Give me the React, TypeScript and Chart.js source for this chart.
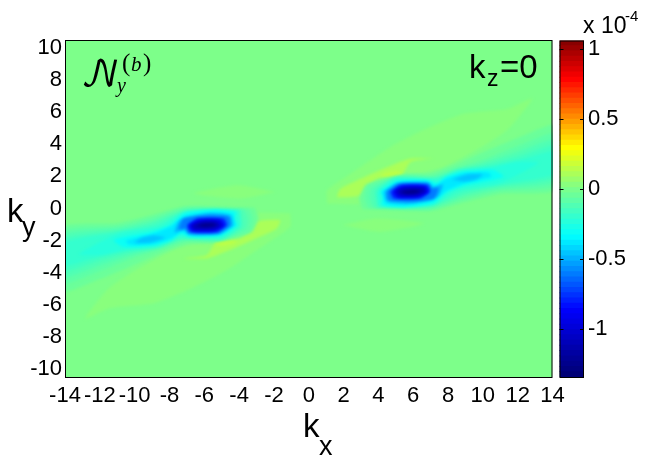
import React, { useEffect, useRef } from "react";
import { Chart, registerables } from "chart.js";
Chart.register(...registerables);

type P = [number, number];

const xTicks = [-14, -12, -10, -8, -6, -4, -2, 0, 2, 4, 6, 8, 10, 12, 14];
const yTicks = [-10, -8, -6, -4, -2, 0, 2, 4, 6, 8, 10];
const barTicks = [-1, -0.5, 0, 0.5, 1];
const kxRange: P = [-14, 14];
const kyRange: P = [-10.5, 10.5];
const barRange: P = [-1.34, 1.057];

// contours of the k>0 lobe, in (kx, ky); the field is even under k -> -k
const pos03: P[] = [[1.06,0.3],[2.98,0.3],[4.5,0.9],[5.66,1.97],[7.77,2.59],[10.26,4.05],[11.5,4.99],[12.84,6.86],[11.4,6.2],[8.9,5.9],[6.6,4.9],[4.7,3.84],[2.4,2.17],[1.06,1.13]];
const pos07: P[] = [[7.2,3.11],[5.85,2.9],[5.28,1.97],[3.94,1.86],[2.98,0.82],[1.64,0.72],[1.83,1.24],[2.8,1.76],[4.32,2.49],[5.85,3.11]];
const pos12: P[] = [[4.1,2.02],[5.3,2.0],[5.4,2.2],[5.0,2.35],[4.3,2.2]];
const posLow: P[] = [[1.9,-1.03],[3.92,-0.62],[6.6,-0.93],[4.1,-1.45]];
const neg03: P[] = [[3.1,-0.05],[7,-0.15],[9,0.4],[11,0.9],[14.3,1.2],[14.3,5.2],[12,4.4],[10,3.5],[8.5,2.8],[7,2.2],[5.5,2.15],[3.3,1.5],[2.9,0.6]];
const neg07: P[] = [[3.4,0.05],[7,-0.05],[9,0.6],[11,1.1],[14.3,1.45],[14.3,4.7],[12,3.9],[10,3.05],[8.5,2.55],[7,2.05],[5.5,2.05],[3.4,1.4],[3.2,0.6]];
const neg11: P[] = [[3.7,0.08],[7,0.05],[9,0.8],[11,1.25],[14.3,1.7],[14.3,4.3],[12,3.55],[10,2.85],[8.5,2.45],[7.2,1.95],[5.2,1.95],[3.6,1.25],[3.5,0.6]];
const neg15: P[] = [[3.9,0.1],[7,0.15],[9,0.95],[11,1.4],[14.3,1.95],[14.3,3.95],[12,3.25],[10,2.7],[8.5,2.4],[7.3,1.9],[5,1.9],[3.8,1.15]];
const neg19: P[] = [[4,0.14],[7.05,0.2],[8.7,1.05],[11,1.5],[14.3,2.2],[14.3,3.6],[12,3.0],[10.5,2.65],[8.6,2.35],[7.35,1.85],[5,1.85],[3.95,1.1]];
const neg23: P[] = [[4.1,0.18],[7.1,0.25],[8.5,1.15],[11,1.6],[13.2,2.85],[12,2.9],[10.5,2.55],[8.7,2.35],[7.4,1.75],[5,1.8],[4,1.05]];
const neg30: P[] = [[4.11,1.05],[5.07,1.72],[6.79,1.78],[7.37,1.57],[7.94,1.99],[8.9,2.3],[10.62,2.4],[11.2,1.99],[10.62,1.78],[9.09,1.47],[7.94,1.05],[7.17,0.32],[5.45,0.07],[4.2,0.22],[4.3,0.74]];
const neg38: P[] = [[4.2,1.05],[5.1,1.62],[6.8,1.68],[7.3,1.45],[7.9,1.85],[8.9,2.18],[10.3,2.25],[10.5,2.0],[9,1.6],[7.9,1.1],[7.1,0.45],[5.4,0.2],[4.4,0.35]];
const tail46: P[] = [[8.2,1.8],[9.1,2.12],[10,2.12],[9.6,1.82],[8.9,1.68]];
const neg50: P[] = [[4.35,1.05],[5.12,1.58],[6.85,1.6],[7.15,1.3],[7.7,1.5],[7.4,0.75],[5.83,0.32],[4.5,0.45]];
const neg62: P[] = [[4.49,1.05],[5.16,1.52],[6.89,1.55],[7.08,1.26],[7.45,1.3],[7.2,0.63],[5.83,0.43],[4.59,0.53]];
const neg80: P[] = [[4.68,1.05],[5.26,1.47],[6.79,1.47],[6.98,1.05],[6.4,0.63],[4.88,0.63]];
const neg95: P[] = [[4.85,1.07],[5.38,1.38],[6.68,1.38],[6.85,1.05],[6.3,0.7],[5.1,0.7]];
const neg110: P[] = [[5.05,1.08],[5.5,1.27],[6.55,1.27],[6.7,1.05],[6.15,0.82],[5.3,0.82]];
const neg125: P[] = [[5.3,1.07],[6.02,1.17],[6.45,1.08],[6.05,0.93],[5.5,0.93]];
const backdrop: P[] = [[-14,-10.5],[14,-10.5],[14,10.5],[-14,10.5]];

const contours: [number, P[]][] = [
  [0.04, pos03], [0.09, pos07], [0.15, pos12], [0.04, posLow],
  [-0.03, neg03], [-0.07, neg07], [-0.11, neg11], [-0.15, neg15], [-0.19, neg19], [-0.24, neg23], [-0.3, neg30], [-0.38, neg38],
  [-0.46, tail46], [-0.5, neg50], [-0.62, neg62], [-0.8, neg80], [-0.95, neg95], [-1.1, neg110], [-1.25, neg125],
];

const STOPS: [number, number[]][] = [
  [-1.34, [0, 0, 112]], [-0.86, [0, 0, 255]], [-0.34, [0, 255, 255]], [0, [125, 255, 138]],
  [0.29, [255, 255, 0]], [0.78, [255, 0, 0]], [1.057, [128, 0, 0]],
];
const LEVELS = 64;
function mix(q: number): string {
  for (let i = 0; i < STOPS.length - 1; i++) {
    const [a, ca] = STOPS[i], [b, cb] = STOPS[i + 1];
    if (q <= b) {
      const t = (q - a) / (b - a);
      return `rgb(${ca.map((c, k) => Math.round(c + (cb[k] - c) * t)).join(",")})`;
    }
  }
  return "rgb(128,0,0)";
}
function colorOf(v: number): string {
  const step = (barRange[1] - barRange[0]) / LEVELS;
  return mix(barRange[0] + (Math.floor((v - barRange[0]) / step) + 0.5) * step);
}

const closed = (p: P[]) => [...p, p[0]].map(([x, y]) => ({ x, y }));
const mirrored = (p: P[]): P[] => p.map(([x, y]) => [-x, -y] as P);

const font = (size: number, style = "") => `${style} ${size}px "Liberation Sans", Arial, sans-serif`;

const fieldPlugin = {
  id: "field",
  beforeDatasetsDraw(chart: any) {
    const { ctx, chartArea: a } = chart;
    ctx.save();
    ctx.beginPath();
    ctx.rect(a.left, a.top, a.right - a.left, a.bottom - a.top);
    ctx.clip();
    chart.data.datasets.forEach((ds: any, i: number) => {
      const line = chart.getDatasetMeta(i).dataset;
      line.updateControlPoints(a, "x");
      ctx.filter = i === 0 ? "none" : "blur(1.5px)";
      ctx.fillStyle = ds.fieldColor;
      ctx.beginPath();
      line.path(ctx);
      ctx.closePath();
      ctx.fill();
    });
    ctx.restore();
    return false;
  },
  afterDraw(chart: any) {
    const { ctx, chartArea: a } = chart;
    ctx.save();
    ctx.strokeStyle = "#000";
    ctx.lineWidth = 1;
    ctx.strokeRect(a.left + 0.5, a.top + 0.5, a.right - a.left - 1, a.bottom - a.top);
    ctx.fillStyle = "#000";
    ctx.textAlign = "left";
    ctx.textBaseline = "alphabetic";
    const put = (t: string, x: number, y: number, f: string) => { ctx.font = f; ctx.fillText(t, x, y); };
    put("k", 303, 437, font(33));
    put("x", 319, 455, font(27));
    put("k", 7, 222, font(33));
    put("y", 22, 236, font(27));
    put("k", 469, 78, font(33));
    put("z", 487, 86, font(23));
    put("=0", 500, 78, font(33));
    const serif = (s: number, st = "italic") => `${st} ${s}px "Liberation Serif", serif`;
    put("\u{1D4A9}", 81, 86, `35px "DejaVu Math TeX Gyre", "DejaVu Serif", "Liberation Serif", serif`);
    put("y", 117, 92, serif(20));
    put("(", 122, 71, serif(25, ""));
    put("b", 131, 71, serif(21));
    put(")", 143, 71, serif(25, ""));
    ctx.restore();
  },
};

const barPlugin = {
  id: "barFrame",
  afterDraw(chart: any) {
    const { ctx, chartArea: a, scales } = chart;
    ctx.save();
    ctx.strokeStyle = "#000";
    ctx.lineWidth = 1;
    ctx.strokeRect(a.left + 0.5, a.top + 0.5, a.right - a.left - 1, a.bottom - a.top);
    barTicks.forEach((v) => {
      const y = Math.round(scales.y.getPixelForValue(v)) + 0.5;
      ctx.beginPath();
      ctx.moveTo(a.left, y); ctx.lineTo(a.left + 4, y);
      ctx.moveTo(a.right - 4, y); ctx.lineTo(a.right, y);
      ctx.stroke();
    });
    ctx.fillStyle = "#000";
    ctx.textBaseline = "alphabetic";
    ctx.font = font(23);
    ctx.fillText("x 10", 43, 33);
    ctx.font = font(15);
    ctx.fillText("-4", 85, 21);
    ctx.restore();
  },
};

const tickFont = { family: '"Liberation Sans"', size: 22 };

export default function App() {
  const main = useRef<HTMLCanvasElement>(null);
  const bar = useRef<HTMLCanvasElement>(null);
  useEffect(() => {
    const layers: [string, P[]][] = [[mix(0), backdrop]];
    contours.forEach(([v, p]) => { layers.push([colorOf(v), p]); layers.push([colorOf(v), mirrored(p)]); });
    const c1 = new Chart(main.current!, {
      type: "scatter",
      data: {
        datasets: layers.map(([c, p], i) => ({
          label: `layer ${i}`,
          data: closed(p),
          showLine: true,
          tension: i === 0 ? 0 : 0.2,
          pointRadius: 0,
          fieldColor: c,
        })) as any,
      },
      options: {
        animation: false,
        responsive: false,
        layout: { padding: { top: 40, right: 97.5, left: 0, bottom: 0 } },
        plugins: { legend: { display: false }, tooltip: { enabled: false } },
        scales: {
          x: {
            type: "linear", min: kxRange[0], max: kxRange[1],
            grid: { display: false, drawTicks: false }, border: { display: false },
            ticks: { autoSkip: false, maxRotation: 0, color: "#000", font: tickFont, padding: 6 },
            afterBuildTicks: (s: any) => { s.ticks = xTicks.map((value) => ({ value })); },
            afterFit: (s: any) => { s.height = 86; },
          },
          y: {
            type: "linear", min: kyRange[0], max: kyRange[1],
            grid: { display: false, drawTicks: false }, border: { display: false },
            ticks: { autoSkip: false, color: "#000", font: tickFont, padding: 3 },
            afterBuildTicks: (s: any) => { s.ticks = yTicks.map((value) => ({ value })); },
            afterFit: (s: any) => { s.width = 65; },
          },
        },
      },
      plugins: [fieldPlugin],
    } as any);

    const step = (barRange[1] - barRange[0]) / LEVELS;
    const bands = Array.from({ length: LEVELS }, (_, i) => barRange[0] + i * step);
    const c2 = new Chart(bar.current!, {
      type: "bar",
      data: {
        labels: ["colour"],
        datasets: bands.map((lo) => ({
          data: [[lo, lo + step * 1.05]],
          backgroundColor: mix(lo + step / 2),
          borderWidth: 0,
          barPercentage: 1,
          categoryPercentage: 1,
        })) as any,
      },
      options: {
        animation: false,
        responsive: false,
        layout: { padding: { top: 40.5, right: 0, left: 19.5, bottom: 86 } },
        plugins: { legend: { display: false }, tooltip: { enabled: false } },
        scales: {
          x: { stacked: true, display: false },
          y: {
            position: "right", min: barRange[0], max: barRange[1],
            grid: { display: false, drawTicks: false }, border: { display: false },
            ticks: { autoSkip: false, color: "#000", font: tickFont, padding: 4, callback: (v: any) => String(v) },
            afterBuildTicks: (s: any) => { s.ticks = barTicks.map((value) => ({ value })); },
            afterFit: (s: any) => { s.width = 66; },
          },
        },
      },
      plugins: [barPlugin],
    } as any);
    return () => { c1.destroy(); c2.destroy(); };
  }, []);
  return (
    <div style={{ position: "fixed", left: 0, top: 0, width: 650, height: 463, background: "#fff" }}>
      <canvas ref={main} width={650} height={463} style={{ position: "absolute", left: 0, top: 0 }} />
      <canvas ref={bar} width={110} height={463} style={{ position: "absolute", left: 540, top: 0 }} />
    </div>
  );
}
